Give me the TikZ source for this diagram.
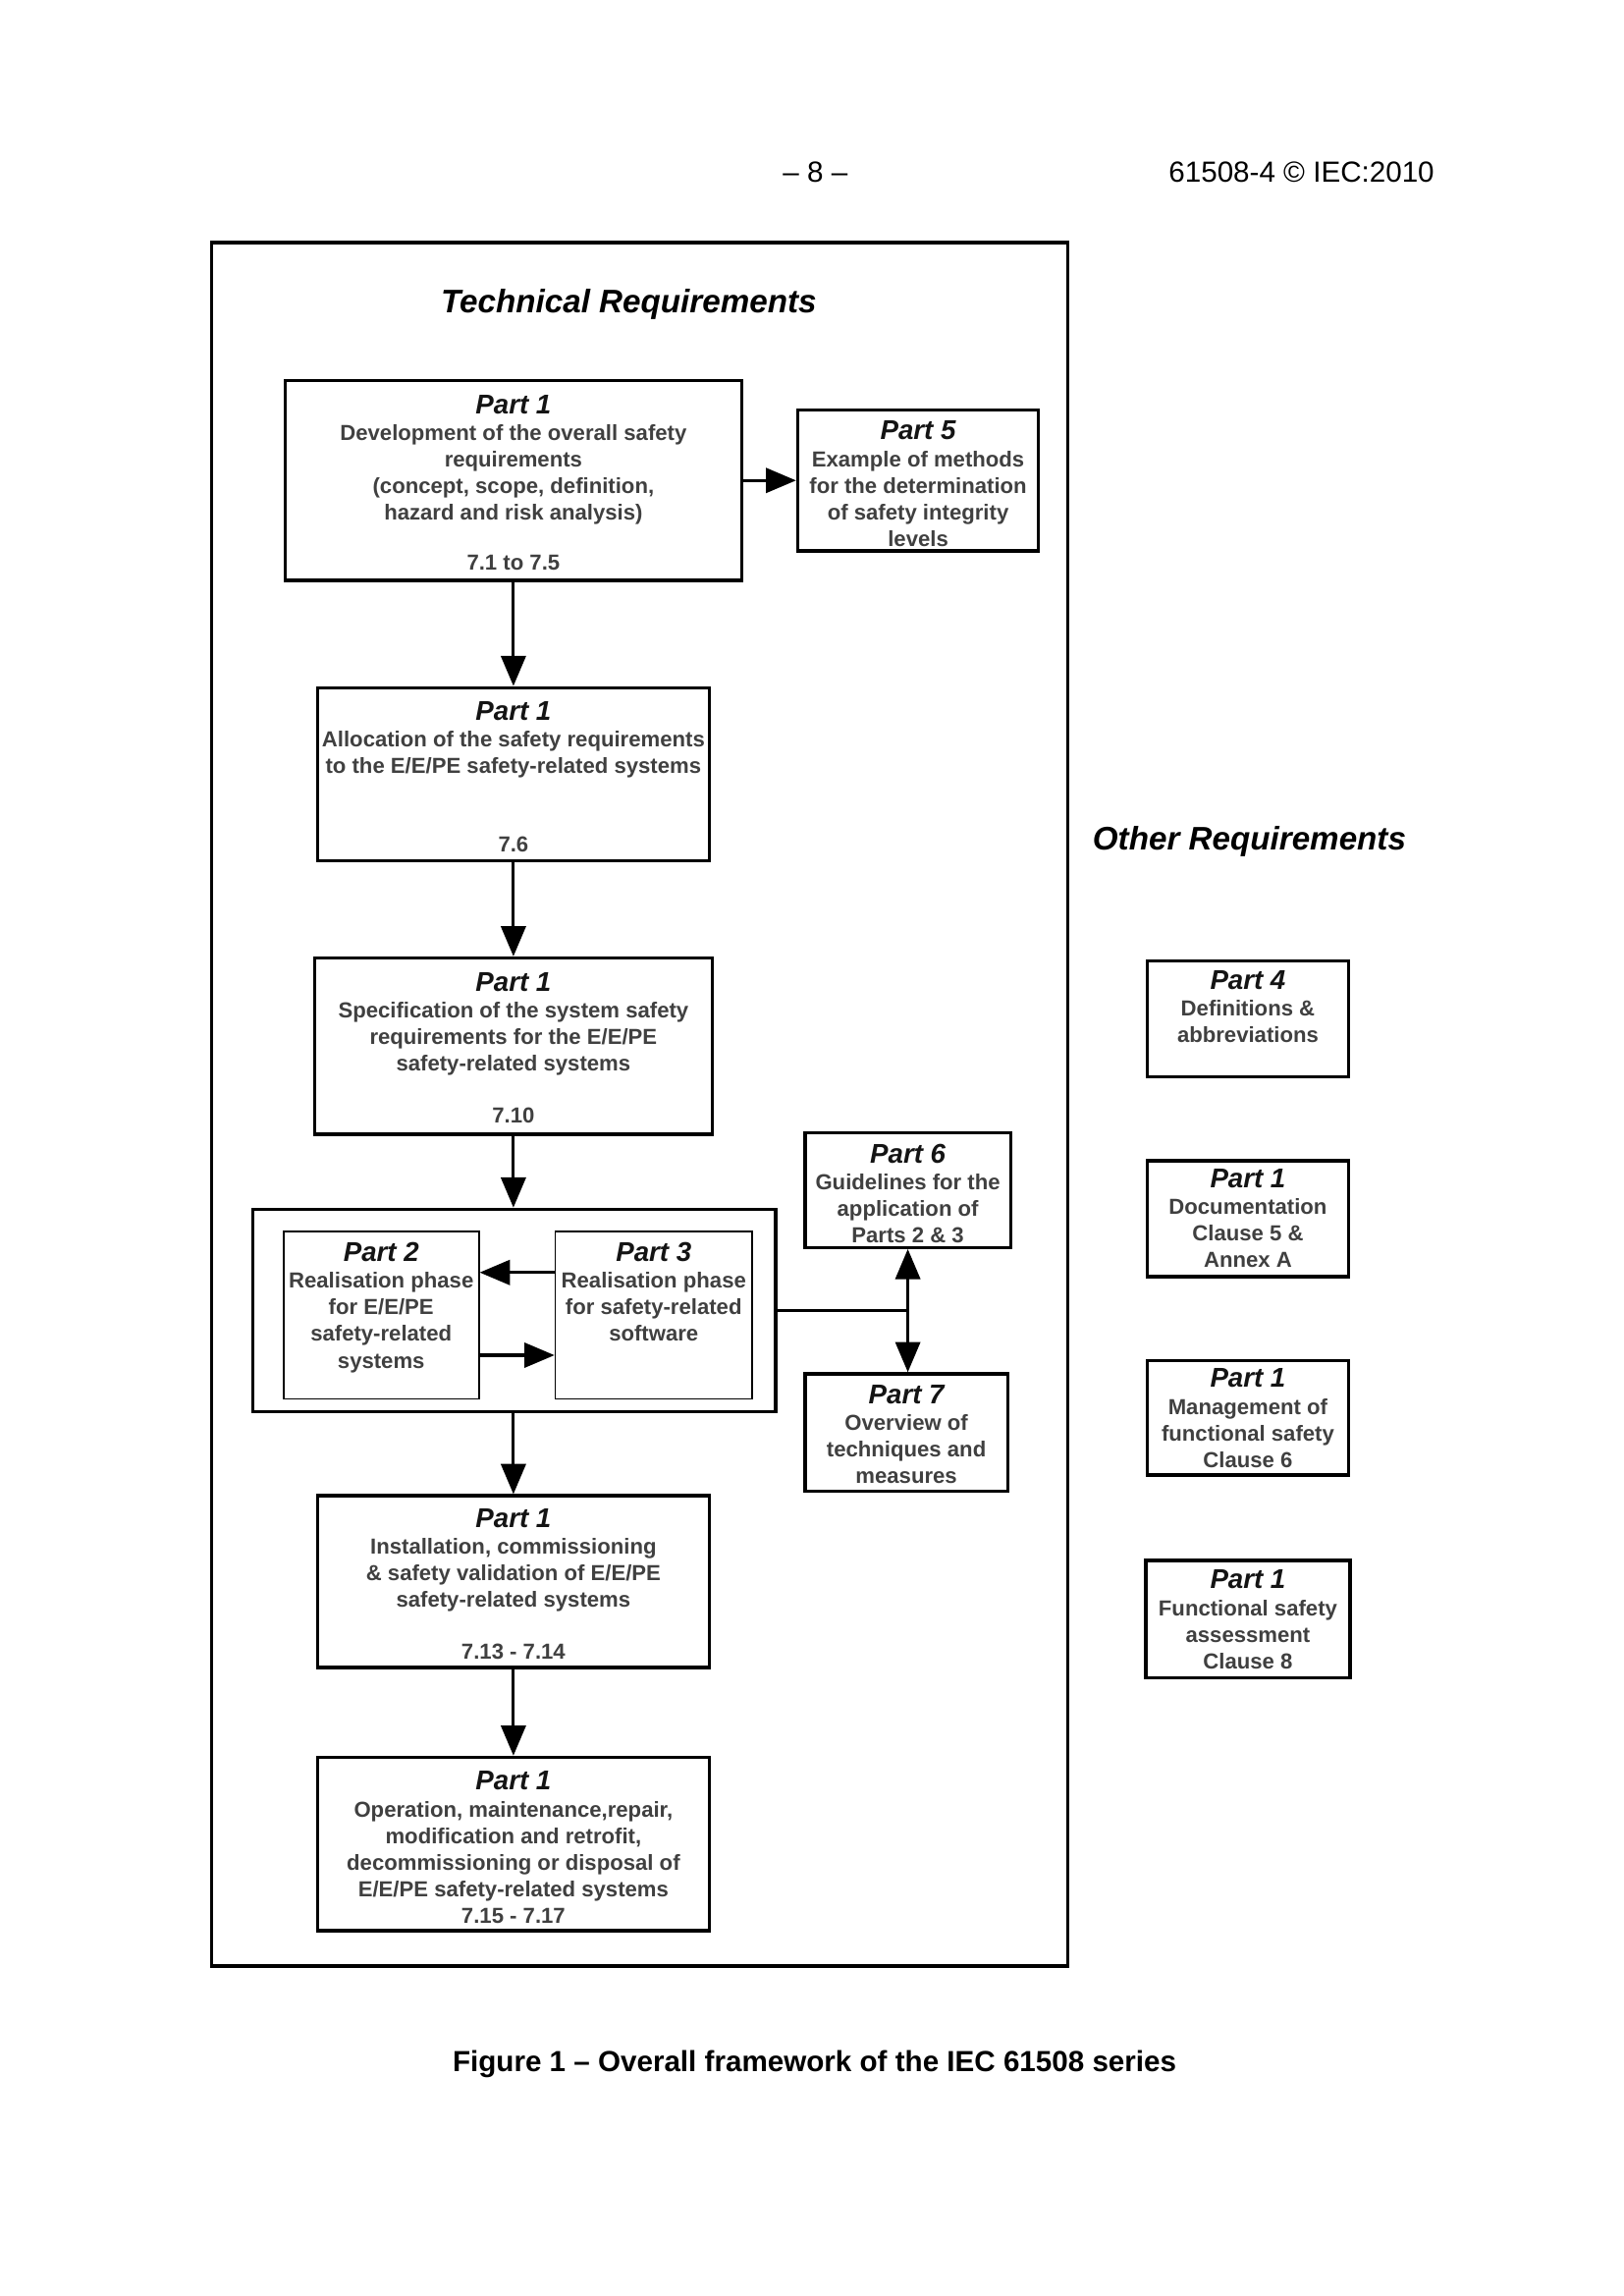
\documentclass[tikz,border=0pt]{standalone}
\usepackage{fontspec}
\setmainfont{Liberation Sans}
\usetikzlibrary{arrows.meta,fit}
\tikzset{
  box/.style={draw, line width=1.2pt, inner sep=0pt},
  ibox/.style={draw, line width=0.6pt, inner sep=0pt},
  frame/.style={draw, line width=1.3pt, inner sep=0pt},
  txt/.style={align=center, inner sep=0pt, anchor=north, font=\fontsize{8}{9.8}\selectfont\bfseries, text=black!75},
  num/.style={inner sep=0pt, font=\fontsize{8}{9.8}\selectfont\bfseries, text=black!75},
  head/.style={inner sep=0pt, font=\fontsize{12}{14}\selectfont\bfseries\itshape},
  tip/.tip={Triangle[length=3.9mm,width=3.2mm]},
  arr/.style={line width=1.1pt, -tip},
  darr/.style={line width=1.1pt, tip-tip},
  link/.style={line width=1.1pt},
}
\newcommand\ptitle[1]{{\fontsize{10}{12}\selectfont\bfseries\itshape\color{black!92}#1}}
\begin{document}
\begin{tikzpicture}[x=0.19005mm,y=-0.19005mm]
\useasboundingbox (0,0) rectangle (1105,1562.7);
\fill[white] (0,0) rectangle (1105,1562.7);

% header
\node[inner sep=0pt, font=\fontsize{10.7}{12}\selectfont] (pg) at (555,117) {– 8 –};
\node[inner sep=0pt, font=\fontsize{10.7}{12}\selectfont] (std) at (886,117) {61508-4 © IEC:2010};

% outer frame
\node[frame, fit={(144,165) (727,1338)}] (frm) {};
\node[head] (tech) at (428,207) {Technical Requirements};
\node[head] (other) at (850.5,573) {Other Requirements};

% Part 1 (a)
\node[box, fit={(194,259) (505,395)}] (p1a) {};
\node[txt] (p1at) at (349.5,268.3) {\ptitle{Part 1}\\Development of the overall safety\\requirements\\(concept, scope, definition,\\hazard and risk analysis)};
\node[num] (p1an) at (349.5,383) {7.1 to 7.5};

% Part 5
\node[box, fit={(543,279) (707,375)}] (p5) {};
\node[txt] (p5t) at (625,286.3) {\ptitle{Part 5}\\Example of methods\\for the determination\\of safety integrity\\levels};

% Part 1 (b)
\node[box, fit={(216,468) (483,586)}] (p1b) {};
\node[txt] (p1bt) at (349.5,477.3) {\ptitle{Part 1}\\Allocation of the safety requirements\\to the E/E/PE safety-related systems};
\node[num] (p1bn) at (349.5,575) {7.6};

% Part 1 (c)
\node[box, fit={(214,652) (485,772)}] (p1c) {};
\node[txt] (p1ct) at (349.5,661.3) {\ptitle{Part 1}\\Specification of the system safety\\requirements for the E/E/PE\\safety-related systems};
\node[num] (p1cn) at (349.5,759) {7.10};

% realisation group
\node[box, fit={(172,823) (528,961)}] (grp) {};
\node[ibox, fit={(193,838) (326,952)}] (p2) {};
\node[txt] (p2t) at (259.5,845.3) {\ptitle{Part 2}\\Realisation phase\\for E/E/PE\\safety-related\\systems};
\node[ibox, fit={(378,838) (512,952)}] (p3) {};
\node[txt] (p3t) at (445,845.3) {\ptitle{Part 3}\\Realisation phase\\for safety-related\\software};

% Part 6 and Part 7
\node[box, fit={(548,771) (688,849)}] (p6) {};
\node[txt] (p6t) at (618,778.3) {\ptitle{Part 6}\\Guidelines for the\\application of\\Parts 2 \& 3};
\node[box, fit={(548,935) (686,1015)}] (p7) {};
\node[txt] (p7t) at (617,942.3) {\ptitle{Part 7}\\Overview of\\techniques and\\measures};

% Part 1 (d)
\node[box, fit={(216,1018) (483,1135)}] (p1d) {};
\node[txt] (p1dt) at (349.5,1026.3) {\ptitle{Part 1}\\Installation, commissioning\\\& safety validation of E/E/PE\\safety-related systems};
\node[num] (p1dn) at (349.5,1124) {7.13 - 7.14};

% Part 1 (e)
\node[box, fit={(216,1196) (483,1314)}] (p1e) {};
\node[txt] (p1et) at (349.5,1205.3) {\ptitle{Part 1}\\Operation, maintenance,repair,\\modification and retrofit,\\decommissioning or disposal of\\E/E/PE safety-related systems\\7.15 - 7.17};

% other requirements
\node[box, fit={(781,654) (918,733)}] (p4) {};
\node[txt] (p4t) at (849.5,660.3) {\ptitle{Part 4}\\Definitions \&\\abbreviations};
\node[box, fit={(781,790) (918,869)}] (pdoc) {};
\node[txt] (pdoct) at (849.5,795.3) {\ptitle{Part 1}\\Documentation\\Clause 5 \&\\Annex A};
\node[box, fit={(781,926) (918,1004)}] (pmgt) {};
\node[txt] (pmgtt) at (849.5,931.3) {\ptitle{Part 1}\\Management of\\functional safety\\Clause 6};
\node[box, fit={(780,1062) (919,1142)}] (pfsa) {};
\node[txt] (pfsat) at (849.5,1068.3) {\ptitle{Part 1}\\Functional safety\\assessment\\Clause 8};

% connectors
\draw[arr] (p1a.south) -- (p1b.north);
\draw[arr] (p1a.east) -- (p5.west);
\draw[arr] (p1b.south) -- (p1c.north);
\draw[arr] (p1c.south) -- (p1c.south |- grp.north);
\draw[arr] ([yshift=5.5mm]p3.west) -- ([yshift=5.5mm]p2.east);
\draw[arr] ([yshift=-5.2mm]p2.east) -- ([yshift=-5.2mm]p3.west);
\draw[arr] (grp.south -| p1d.north) -- (p1d.north);
\draw[arr] (p1d.south) -- (p1e.north);
\draw[link] (grp.east) -- (grp.east -| p6.south);
\draw[darr] (p6.south) -- (p6.south |- p7.north);

% caption
\node[inner sep=0pt, font=\fontsize{10.7}{12}\selectfont\bfseries] (cap) at (554.5,1405) {Figure 1 – Overall framework of the IEC 61508 series};
\end{tikzpicture}
\end{document}
